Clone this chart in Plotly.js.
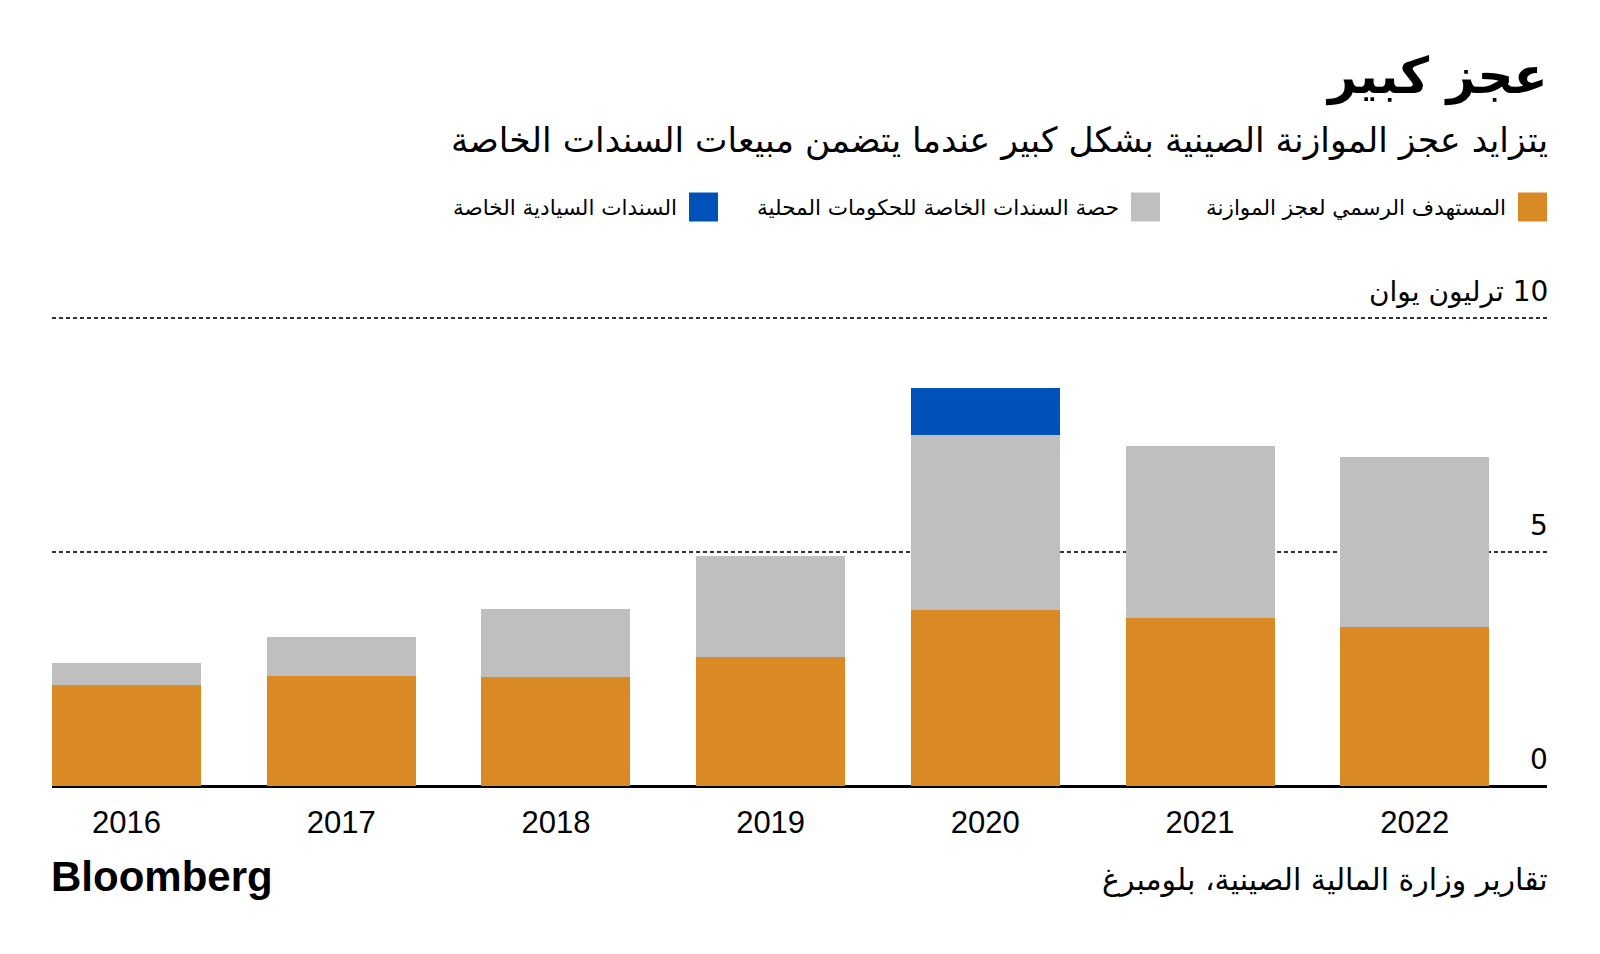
<!DOCTYPE html>
<html>
<head>
<meta charset="utf-8">
<script src="https://cdn.plot.ly/plotly-3.0.1.min.js"></script>
<style>
html,body{margin:0;padding:0;background:#fff;}
#chart{width:1600px;height:954px;}
</style>
</head>
<body>
<div id="chart"></div>
<script>
// ---- data ----
const years = ['2016','2017','2018','2019','2020','2021','2022'];
const officialDeficit = [2.15, 2.36, 2.33, 2.76, 3.76, 3.58, 3.39];
const localSpecialBonds = [0.47, 0.82, 1.45, 2.15, 3.75, 3.69, 3.65];
const sovereignSpecialBonds = [0, 0, 0, 0, 1.0, 0, 0];
const seriesNames = ['المستهدف الرسمي لعجز الموازنة', 'حصة السندات الخاصة للحكومات المحلية', 'السندات السيادية الخاصة'];
const seriesColors = ['#DA8A24', '#BFBFBF', '#0052B9'];
const yTickVals = [0, 5, 10];
const yTickText = ['0', '5', '\u200F10 ترليون يوان'];
const titleText = 'عجز كبير';
const subtitleText = 'يتزايد عجز الموازنة الصينية بشكل كبير عندما يتضمن مبيعات السندات الخاصة';
const sourceText = 'تقارير وزارة المالية الصينية، بلومبرغ';

// ---- layout geometry ----
const W = 1600, H = 954;
const L = 52, R = 1547, T = 304, B = 786;
const xp = px => (px - L) / (R - L);
const yp = py => (B - py) / (B - T);
const arFont = '"DejaVu Sans", "Noto Sans", sans-serif';
const numFont = '"Liberation Sans", Arial, sans-serif';

const seriesData = [officialDeficit, localSpecialBonds, sovereignSpecialBonds];
const traces = seriesData.map((vals, i) => ({
  type: 'bar',
  x: years,
  y: vals,
  name: seriesNames[i],
  marker: {color: seriesColors[i], line: {width: 0}},
  hoverinfo: 'skip'
}));

const annotations = [
  {text: '<b>' + titleText + '</b>', xref: 'paper', yref: 'paper', x: 1, y: yp(77),
   xanchor: 'right', yanchor: 'middle', showarrow: false, xshift: 3,
   font: {family: arFont, size: 50, color: '#000'}},
  {text: subtitleText, xref: 'paper', yref: 'paper', x: 1, y: yp(140),
   xanchor: 'right', yanchor: 'middle', showarrow: false, xshift: 3,
   font: {family: arFont, size: 34.5, color: '#000'}},
  {text: '<b>Bloomberg</b>', xref: 'paper', yref: 'paper', x: 0, y: yp(876),
   xanchor: 'left', yanchor: 'middle', showarrow: false, xshift: -3,
   font: {family: numFont, size: 42, color: '#000'}},
  {text: sourceText, xref: 'paper', yref: 'paper', x: 1, y: yp(880),
   xanchor: 'right', yanchor: 'middle', showarrow: false, xshift: 3,
   font: {family: arFont, size: 30, color: '#000'}}
];

// y-axis tick labels, above their gridlines, right-aligned
yTickVals.forEach((v, i) => {
  annotations.push({text: yTickText[i], xref: 'paper', yref: 'y', x: 1, y: v,
    xanchor: 'right', yanchor: 'bottom', showarrow: false, xshift: 3, yshift: 8,
    font: {family: arFont, size: 28, color: '#000'}});
});

// legend (RTL): swatch right edges
const legendRight = [1547, 1160, 718];
const sw = 29, legY = 207;
const shapes = [];
legendRight.forEach((rx, i) => {
  shapes.push({type: 'rect', xref: 'paper', yref: 'paper',
    x0: xp(rx - sw), x1: xp(rx), y0: yp(legY + sw / 2), y1: yp(legY - sw / 2),
    fillcolor: seriesColors[i], line: {width: 0}});
  annotations.push({text: seriesNames[i], xref: 'paper', yref: 'paper',
    x: xp(rx - sw - 10), y: yp(legY), xanchor: 'right', yanchor: 'middle',
    showarrow: false, font: {family: arFont, size: 21.5, color: '#000'}});
});

const layout = {
  width: W, height: H,
  margin: {l: L, r: W - R, t: T, b: H - B, pad: 0},
  paper_bgcolor: '#fff', plot_bgcolor: '#fff',
  barmode: 'stack',
  bargap: 0.306,
  showlegend: false,
  xaxis: {
    type: 'category',
    range: [-0.347, 6.616],
    showgrid: false, zeroline: false, showline: false,
    ticks: '', ticklabelstandoff: 15,
    tickfont: {family: numFont, size: 31, color: '#000'},
    fixedrange: true
  },
  yaxis: {
    range: [0, 10.3],
    side: 'right',
    tickvals: yTickVals, showticklabels: false,
    showgrid: true, gridcolor: '#333', gridwidth: 1.2, griddash: '4px,3px',
    zeroline: true, zerolinecolor: '#000', zerolinewidth: 3,
    showline: false, ticks: '',
    fixedrange: true
  },
  annotations: annotations,
  shapes: shapes
};

Plotly.newPlot('chart', traces, layout, {displayModeBar: false, staticPlot: true});
</script>
</body>
</html>
